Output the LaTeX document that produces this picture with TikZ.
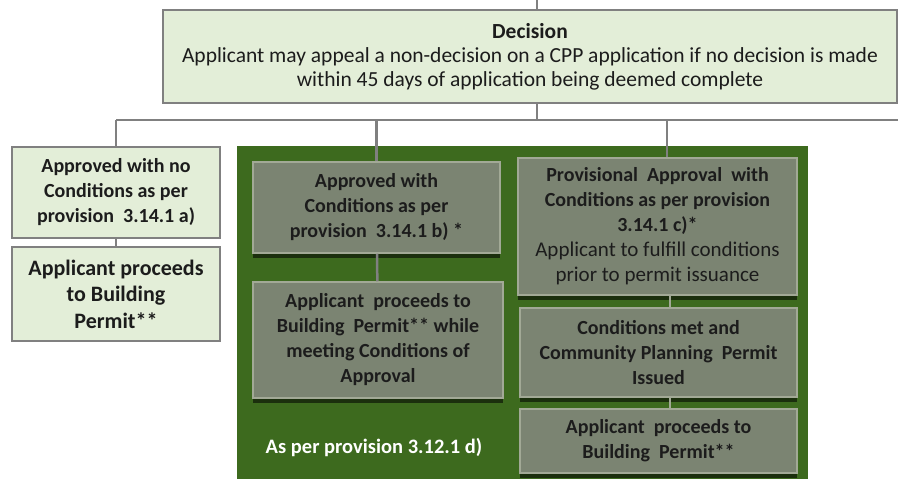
\documentclass[tikz,border=0pt]{standalone}
\usepackage{fontspec}
\setmainfont{Carlito}
\usetikzlibrary{
    positioning,
    shadows
}

\definecolor{lightsage}{HTML}{E3EED8}
\definecolor{boxgray}{HTML}{808080}
\definecolor{darkleaf}{HTML}{3D6A1E}
\definecolor{mossgray}{HTML}{7B8472}
\definecolor{mossedge}{HTML}{A2A996}
\definecolor{textdark}{HTML}{1C1C1C}

\begin{document}
\begin{tikzpicture}[x=1pt, y=-1pt,
    lightbox/.style={
      draw=boxgray,
      line width=2pt,
      fill=lightsage,
      align=center,
      text=textdark,
      font=\bfseries\fontsize{20}{25}\selectfont
    },
    mossbox/.style={
      draw=mossedge,
      line width=1.5pt,
      fill=mossgray,
      align=center,
      text=textdark,
      drop shadow={shadow xshift=0pt, shadow yshift=-5pt,
        fill=black, opacity=0.55},
      font=\bfseries\fontsize{20}{25}\selectfont
    },
    link/.style={draw=boxgray, line width=2.5pt}
  ]

  \useasboundingbox (0,0) rectangle (898,479);

  \coordinate (top) at (537,0);

  % decision {{{
  \node[
    lightbox,
    minimum width=734pt,
    minimum height=93pt,
    font=\fontsize{21.5}{24}\selectfont
  ] (decision) at (530,56.5)
  {\textbf{Decision}\\
   Applicant may appeal a non-decision on a CPP application if no decision is made\\
   within 45 days of application being deemed complete};
  % }}}

  % green panel {{{
  \node[
    fill=darkleaf,
    minimum width=571pt,
    minimum height=334pt
  ] (panel) at (522.5,313) {};
  \node[
    text=white,
    font=\bfseries\fontsize{20.5}{24}\selectfont
  ] (provd) at (374,448) {As per provision 3.12.1 d)};
  % }}}

  % no conditions {{{
  \node[
    lightbox,
    minimum width=208pt,
    minimum height=91pt
  ] (nocond) at (116,192.5)
  {Approved with no\\Conditions as per\\provision\ \ 3.14.1 a)};
  \node[
    lightbox,
    minimum width=208pt,
    minimum height=94pt,
    font=\bfseries\fontsize{22}{26.5}\selectfont
  ] (nocondbp) at (116,294)
  {Applicant proceeds\\to Building\\Permit**};
  % }}}

  % with conditions {{{
  \node[
    mossbox,
    minimum width=247pt,
    minimum height=91pt
  ] (withcond) at (376.5,207.5)
  {Approved with\\Conditions as per\\provision\ \ 3.14.1 b)\ *};
  \node[
    mossbox,
    minimum width=250pt,
    minimum height=116pt
  ] (withcondbp) at (378,340)
  {Applicant\ \ proceeds to\\Building\ \ Permit** while\\meeting Conditions of\\Approval};
  % }}}

  % provisional {{{
  \node[
    mossbox,
    minimum width=279pt,
    minimum height=137pt
  ] (prov) at (657.5,226.5)
  {Provisional\ \ Approval\ \ with\\Conditions as per provision\\3.14.1 c)*\\
   \mdseries\fontsize{21}{25}\selectfont Applicant to fulfill conditions\\
   \mdseries\fontsize{21}{25}\selectfont prior to permit issuance};
  \node[
    mossbox,
    minimum width=277pt,
    minimum height=89pt
  ] (provmet) at (658.5,352.5)
  {Conditions met and\\Community Planning\ \ Permit\\Issued};
  \node[
    mossbox,
    minimum width=277pt,
    minimum height=64pt
  ] (provbp) at (658.5,441)
  {Applicant\ \ proceeds to\\Building\ \ Permit**};
  % }}}

  % connectors {{{
  \coordinate (bus) at (537,120);
  \coordinate (busend) at (898,120);
  \draw[link] (top) -- (decision.north -| top);
  \draw[link] (decision.south -| top) -- (bus);
  \draw[link] (nocond.north |- bus) -- (busend);
  \draw[link] (nocond.north |- bus) -- (nocond.north);
  \draw[link] (withcond.north |- bus) -- (withcond.north);
  \draw[link] (667,120) -- (prov.north -| 667,0);
  \draw[link] (nocond) -- (nocondbp);
  \draw[link] (withcond) -- (withcondbp);
  \draw[line width=1.5pt, draw=mossedge] (prov.south -| 670,0) -- (provmet.north -| 670,0);
  \draw[line width=1.5pt, draw=mossedge] (provmet.south -| 670,0) -- (provbp.north -| 670,0);
  % }}}

\end{tikzpicture}
\end{document}
